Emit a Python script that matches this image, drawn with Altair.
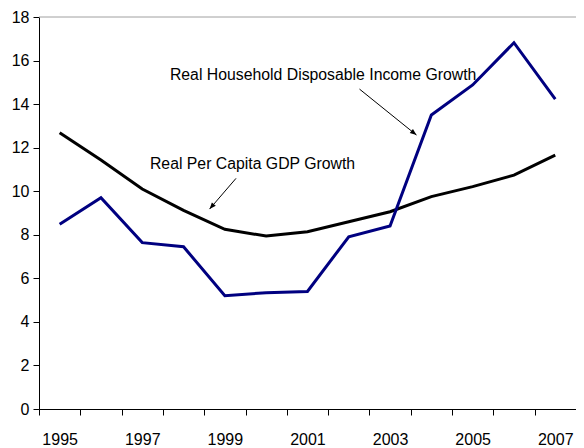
import altair as alt
import pandas as pd

# ---- data ----
years = list(range(1995, 2008))
gdp_growth = [12.69, 11.43, 10.10, 9.12, 8.25, 7.94, 8.14, 8.60, 9.06, 9.75, 10.21, 10.74, 11.66]
income_growth = [8.48, 9.70, 7.64, 7.45, 5.20, 5.34, 5.40, 7.91, 8.40, 13.50, 14.88, 16.82, 14.23]
series_names = ["Real Per Capita GDP Growth", "Real Household Disposable Income Growth"]
series_colors = ["#000000", "#000080"]

# annotation labels (data coordinates)
label_text = series_names
label_x = [1999.67, 2001.38]
label_y = [11.02, 15.11]
# arrows (data coordinates): start -> tip
arrow_x = [1999.27, 2002.26]
arrow_y = [10.59, 14.69]
arrow_x2 = [1998.63, 2003.64]
arrow_y2 = [9.18, 12.58]
arrow_angle = [221, 128]

df = pd.DataFrame({
    "year": years * 2,
    "value": gdp_growth + income_growth,
    "series": [series_names[0]] * len(years) + [series_names[1]] * len(years),
})
labels_df = pd.DataFrame({"x": label_x, "y": label_y, "text": label_text})
arrows_df = pd.DataFrame({"x": arrow_x, "y": arrow_y, "x2": arrow_x2, "y2": arrow_y2, "angle": arrow_angle})

AX_FONT = "Liberation Sans"
band_px = 41.3
W = 537
H = 392

x_scale = alt.Scale(domain=[1994.5, 1994.5 + W / band_px], nice=False, zero=False)
y_scale = alt.Scale(domain=[0, 18], nice=False)

x_axis = alt.Axis(
    values=[1994.5 + i for i in range(13)],
    labelExpr="((datum.value + 0.5) % 2 == 1) ? format(datum.value + 0.5, 'd') : ''",
    labelOffset=band_px / 2,
    tickSize=6,
    labelPadding=16,
    grid=False,
    domainColor="black",
    tickColor="black",
    labelColor="black",
    labelFont=AX_FONT,
    labelFontSize=16,
    labelOverlap=False,
    labelFlush=False,
    labelBound=False,
    title=None,
)
y_axis = alt.Axis(
    values=list(range(0, 19, 2)),
    tickSize=6,
    labelPadding=4,
    grid=False,
    domainColor="black",
    tickColor="black",
    labelColor="black",
    labelFont=AX_FONT,
    labelFontSize=16,
    title=None,
)

lines = alt.Chart(df).mark_line(strokeWidth=3).encode(
    x=alt.X("year:Q", scale=x_scale, axis=x_axis),
    y=alt.Y("value:Q", scale=y_scale, axis=y_axis),
    color=alt.Color("series:N", scale=alt.Scale(domain=series_names, range=series_colors), legend=None),
)

top_line = alt.Chart(pd.DataFrame({"v": [18]})).mark_rule(color="#a0a0a0", strokeWidth=1).encode(
    y=alt.Y("v:Q", scale=y_scale)
)

texts = alt.Chart(labels_df).mark_text(
    font="Liberation Sans", fontSize=15.8, align="center", baseline="alphabetic", color="black"
).encode(
    x=alt.X("x:Q", scale=x_scale),
    y=alt.Y("y:Q", scale=y_scale),
    text="text:N",
)

arrow_lines = alt.Chart(arrows_df).mark_rule(color="black", strokeWidth=1).encode(
    x=alt.X("x:Q", scale=x_scale),
    y=alt.Y("y:Q", scale=y_scale),
    x2="x2:Q",
    y2="y2:Q",
)

arrow_heads = alt.Chart(arrows_df).mark_point(
    shape="M0,0L-0.4,1L0.4,1Z", filled=True, size=170, color="black", opacity=1, strokeWidth=0
).encode(
    x=alt.X("x2:Q", scale=x_scale),
    y=alt.Y("y2:Q", scale=y_scale),
    angle=alt.Angle("angle:Q", scale=None),
)

chart = alt.layer(top_line, lines, arrow_lines, arrow_heads, texts).properties(
    width=W,
    height=H,
    autosize=alt.AutoSizeParams(type="none"),
    padding={"left": 31, "top": 9, "right": 0, "bottom": 38},
    background="white",
).configure_view(stroke=None)

chart.save("out.html", embed_options={"renderer": "svg", "actions": False})
